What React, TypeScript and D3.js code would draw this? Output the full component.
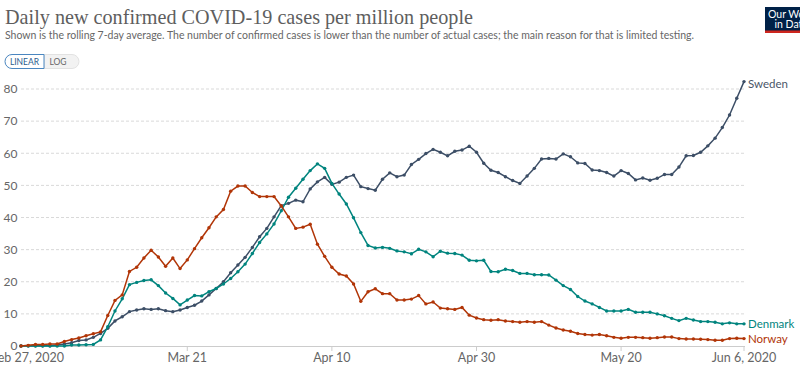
import React from "react";
import * as d3 from "d3";

const countries = ["Sweden", "Denmark", "Norway"];
const colors = ["#3c4e66", "#00847e", "#b13507"];
const labelColors = ["#4a5568", "#00847e", "#b13507"];

const sweden = [
  0, 0.1, 0.1, 0.1, 0.1, 0.3, 0.6, 1.0, 1.7, 1.9,
  2.7, 3.9, 5.5, 7.8, 9.1, 10.7, 11.2, 11.6, 11.4, 11.6,
  11.0, 10.7, 11.2, 12.0, 12.7, 14.0, 15.9, 17.9, 20.0, 22.8,
  25.2, 27.6, 30.7, 34.0, 36.6, 40.2, 43.7, 44.4, 45.4, 44.9,
  48.9, 51.1, 52.5, 50.3, 51.0, 52.5, 53.2, 49.6, 49.0, 48.5,
  51.9, 53.9, 52.7, 53.2, 56.5, 58.1, 59.9, 61.2, 60.3, 59.2,
  60.6, 61.0, 62.2, 60.3, 56.9, 54.7, 54.0, 52.7, 51.5, 50.6,
  52.9, 55.3, 58.2, 58.4, 58.2, 59.8, 58.9, 57.0, 56.8, 54.8,
  54.6, 54.0, 52.9, 54.6, 53.7, 51.7, 52.3, 51.6, 52.2, 53.4,
  53.4, 55.7, 59.2, 59.3, 60.3, 62.3, 64.7, 68.0, 71.9, 77.1,
  82.3,
];

const denmark = [
  0, 0, 0, 0, 0, 0, 0, 0.3, 0.3, 0.4,
  0.5, 1.9, 6.0, 10.9, 14.7, 19.1, 19.8, 20.4, 20.6, 18.8,
  16.5, 14.8, 12.8, 14.3, 15.7, 15.6, 16.9, 17.9, 19.3, 21.0,
  23.1, 25.5, 28.8, 32.2, 34.9, 38.0, 42.1, 46.3, 49.1, 51.9,
  54.6, 56.7, 55.3, 50.6, 47.3, 44.2, 39.9, 35.3, 31.3, 30.5,
  30.7, 30.4, 29.6, 29.3, 28.7, 30.1, 29.3, 27.8, 29.5, 28.9,
  28.8, 28.3, 26.7, 26.5, 26.7, 23.2, 23.1, 23.9, 23.5, 22.6,
  22.6, 22.2, 22.2, 22.1, 20.5, 18.8, 17.6, 15.4, 14.0, 13.1,
  12.0, 10.9, 10.9, 10.9, 11.4, 10.5, 10.5, 10.5, 10.0, 9.4,
  8.6, 7.9, 8.6, 8.1, 7.6, 7.6, 7.4, 6.9, 7.2, 6.9,
  6.9,
];

const norway = [
  0, 0.2, 0.5, 0.5, 0.6, 0.6, 1.4, 2.0, 2.5, 3.2,
  3.8, 4.4, 9.5, 14.2, 15.9, 23.2, 24.5, 27.4, 29.8, 27.7,
  24.8, 27.4, 24.1, 26.8, 30.3, 33.7, 36.8, 40.2, 42.5, 48.2,
  49.8, 49.8, 47.8, 46.5, 46.5, 46.5, 43.6, 40.2, 36.6, 37.0,
  37.9, 31.7, 27.9, 24.5, 22.4, 21.8, 19.3, 13.9, 16.9, 17.8,
  16.3, 16.3, 14.3, 14.3, 14.6, 15.7, 13.1, 13.7, 11.8, 11.6,
  11.4, 12.0, 9.6, 8.7, 8.2, 8.0, 8.2, 7.8, 7.6, 7.4,
  7.6, 7.4, 7.6, 6.5, 5.6, 5.0, 4.6, 3.9, 3.6, 3.4,
  3.6, 3.2, 2.7, 2.4, 2.7, 2.7, 2.6, 2.4, 2.6, 2.8,
  2.8, 2.3, 2.2, 2.2, 2.1, 2.0, 1.8, 1.8, 2.3, 2.4,
  2.3,
];

const seriesValues = [sweden, denmark, norway];
const yTicks = [0, 10, 20, 30, 40, 50, 60, 70, 80];
const xTickLabels = ["Mar 21", "Apr 10", "Apr 30", "May 20"];
const xTickDates = ["2020-03-21", "2020-04-10", "2020-04-30", "2020-05-20"];
const startDate = new Date(2020, 1, 27);
const endDate = new Date(2020, 5, 6);

const title = "Daily new confirmed COVID-19 cases per million people";
const subtitle =
  "Shown is the rolling 7-day average. The number of confirmed cases is lower than the number of actual cases; the main reason for that is limited testing.";

export default function App() {
  const W = 800;
  const H = 375;
  const x = d3.scaleTime().domain([startDate, endDate]).range([21, 744]);
  const y = d3.scaleLinear().domain([0, 80]).range([346, 89]);
  const dates = sweden.map((_, i) => d3.timeDay.offset(startDate, i));
  const line = d3
    .line<number>()
    .x((_, i) => x(dates[i]))
    .y((v) => y(v));
  const font = "Lato, 'Noto Sans', sans-serif";
  const parse = d3.timeParse("%Y-%m-%d");
  const labelY = [y(82.3) + 6, y(6.9) + 4, y(2.3) + 4];

  return (
    <svg
      width={W}
      height={H}
      style={{ position: "absolute", left: 0, top: 0, background: "#fff" }}
    >
      <text
        x={5}
        y={24}
        fontFamily="'Liberation Serif', 'DejaVu Serif', serif"
        fontSize={22}
        fill="#5e5e5e"
        textLength={468}
        lengthAdjust="spacingAndGlyphs"
      >
        {title}
      </text>
      <text
        x={5}
        y={39}
        fontFamily={font}
        fontSize={11}
        fill="#666"
        textLength={689}
        lengthAdjust="spacingAndGlyphs"
      >
        {subtitle}
      </text>

      {/* logo */}
      <rect x={765} y={7} width={62} height={26} fill="#002147" />
      <rect x={765} y={30.5} width={62} height={2.5} fill="#ce261e" />
      <text x={768} y={18} fontFamily={font} fontSize={10.5} fill="#fff">
        Our World
      </text>
      <text x={774.5} y={28} fontFamily={font} fontSize={10.5} fill="#fff">
        in Data
      </text>

      {/* buttons */}
      <path
        d="M44,54.5 H72 A7,7 0 0 1 72,68.5 H44 Z"
        fill="#f2f2f2"
        stroke="#dcdcdc"
        strokeWidth={0.8}
      />
      <path
        d="M44,54.5 H12 A7,7 0 0 0 12,68.5 H44 Z"
        fill="#fff"
        stroke="#4a86c0"
        strokeWidth={1}
      />
      <text x={24.5} y={64.5} fontFamily={font} fontSize={8.5} fill="#2c5d8f" textAnchor="middle">
        LINEAR
      </text>
      <text x={58} y={64.5} fontFamily={font} fontSize={8.5} fill="#666" textAnchor="middle">
        LOG
      </text>

      {/* grid */}
      {yTicks.map((t) => (
        <g key={t}>
          {t > 0 && (
            <line
              x1={21}
              x2={745}
              y1={y(t)}
              y2={y(t)}
              stroke="#d9d9d9"
              strokeDasharray="3,2"
              strokeWidth={1}
            />
          )}
          <text
            x={17.5}
            y={y(t) + 4.3}
            fontFamily={font}
            fontSize={12}
            fill="#666"
            textAnchor="end"
          >
            {t}
          </text>
        </g>
      ))}
      <line x1={21} x2={745} y1={y(0) + 0.5} y2={y(0) + 0.5} stroke="#ccc" strokeWidth={1} />

      {/* x ticks */}
      {xTickDates.map((ds, i) => {
        const xx = x(parse(ds) as Date);
        return (
          <g key={ds}>
            <line x1={xx} x2={xx} y1={346} y2={351} stroke="#ccc" />
            <text x={xx} y={362} fontFamily={font} fontSize={12.5} fill="#666" textAnchor="middle">
              {xTickLabels[i]}
            </text>
          </g>
        );
      })}
      <line x1={x(endDate)} x2={x(endDate)} y1={346} y2={351} stroke="#ccc" />
      <text x={x(startDate) + 43} y={362} fontFamily={font} fontSize={12.5} fill="#666" textAnchor="end">
        Feb 27, 2020
      </text>
      <text x={x(endDate)} y={362} fontFamily={font} fontSize={12.5} fill="#666" textAnchor="middle">
        Jun 6, 2020
      </text>

      {/* series */}
      {seriesValues.map((vals, si) => (
        <g key={countries[si]}>
          <path d={line(vals) || ""} fill="none" stroke={colors[si]} strokeWidth={1.5} />
          {vals.map((v, i) => (
            <circle key={i} cx={x(dates[i])} cy={y(v)} r={1.7} fill={colors[si]} />
          ))}
          <text
            x={748}
            y={labelY[si]}
            fontFamily={font}
            fontSize={11.5}
            fill={labelColors[si]}
          >
            {countries[si]}
          </text>
        </g>
      ))}
    </svg>
  );
}
